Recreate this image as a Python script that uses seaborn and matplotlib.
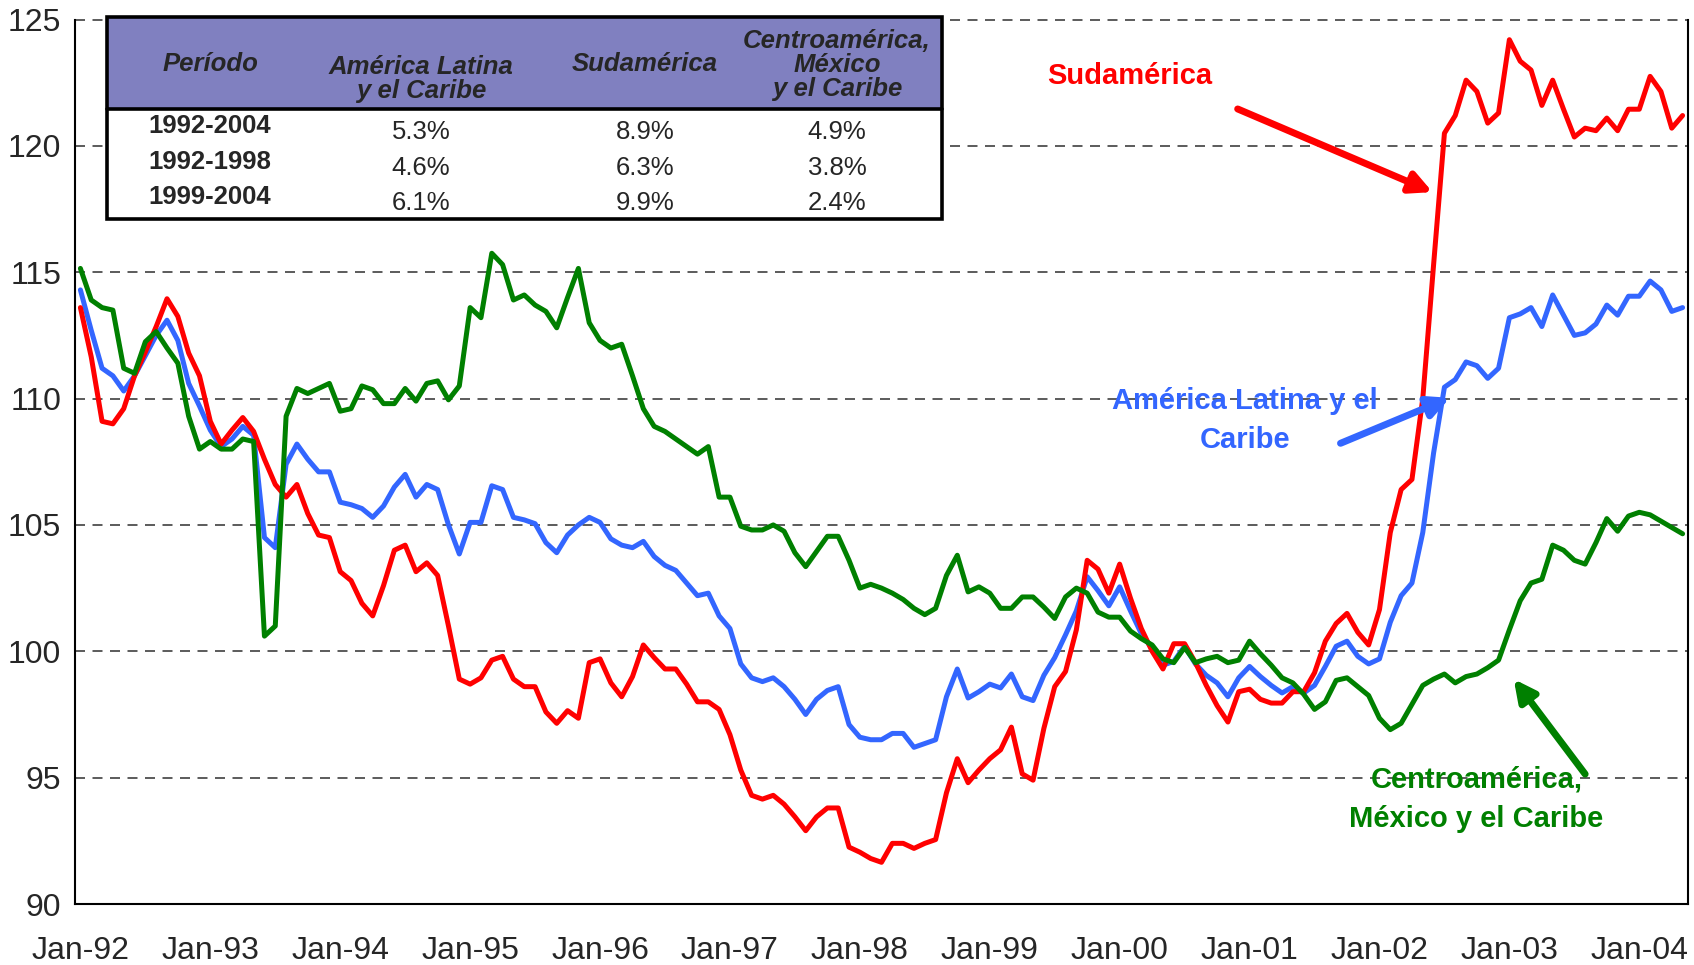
import numpy as np
import pandas as pd
import seaborn as sns
import matplotlib.pyplot as plt
from matplotlib.patches import Rectangle

sns.set_style("white")
plt.rcParams['font.family'] = ['Liberation Sans Narrow', 'Liberation Sans', 'DejaVu Sans']

# indices mensuales, ene-1992 a may-2004
sudamerica = [
    113.6, 111.65, 109.1, 109.0, 109.6, 110.9, 111.85, 112.85, 113.95, 113.25, 111.8, 110.9,
    109.1, 108.2, 108.75, 109.25, 108.7, 107.6, 106.6, 106.1, 106.6, 105.45, 104.6, 104.5,
    103.15, 102.8, 101.9, 101.4, 102.6, 104.0, 104.2, 103.15, 103.5, 103.0, 101.0, 98.9,
    98.7, 98.95, 99.65, 99.8, 98.9, 98.6, 98.6, 97.6, 97.15, 97.65, 97.35, 99.55,
    99.7, 98.75, 98.2, 99.0, 100.25, 99.75, 99.3, 99.3, 98.7, 98.0, 98.0, 97.7,
    96.7, 95.3, 94.3, 94.15, 94.3, 93.95, 93.45, 92.9, 93.45, 93.8, 93.8, 92.25,
    92.05, 91.8, 91.65, 92.4, 92.4, 92.2, 92.4, 92.55, 94.4, 95.75, 94.8, 95.3,
    95.75, 96.1, 97.0, 95.15, 94.9, 96.95, 98.6, 99.2, 100.85, 103.6, 103.25, 102.3,
    103.45, 102.1, 100.9, 100.0, 99.3, 100.3, 100.3, 99.55, 98.65, 97.85, 97.2, 98.4,
    98.5, 98.1, 97.95, 97.95, 98.4, 98.4, 99.15, 100.4, 101.1, 101.5, 100.75, 100.25,
    101.65, 104.7, 106.4, 106.8, 110.0, 115.3, 120.5, 121.2, 122.6, 122.15, 120.9, 121.3,
    124.2, 123.35, 123.0, 121.6, 122.6, 121.45, 120.35, 120.7, 120.6, 121.1, 120.6, 121.45,
    121.45, 122.75, 122.15, 120.7, 121.2,
]
america_latina = [
    114.3, 112.7, 111.2, 110.9, 110.3, 110.9, 111.7, 112.5, 113.1, 112.3, 110.6, 109.7,
    108.75, 108.1, 108.4, 108.9, 108.55, 104.5, 104.1, 107.4, 108.2, 107.6, 107.1, 107.1,
    105.9, 105.8, 105.65, 105.3, 105.75, 106.5, 107.0, 106.1, 106.6, 106.4, 105.0, 103.85,
    105.1, 105.1, 106.55, 106.4, 105.3, 105.2, 105.05, 104.3, 103.9, 104.6, 105.0, 105.3,
    105.1, 104.45, 104.2, 104.1, 104.35, 103.75, 103.4, 103.2, 102.7, 102.2, 102.3, 101.4,
    100.9, 99.5, 98.95, 98.8, 98.95, 98.6, 98.1, 97.5, 98.1, 98.45, 98.6, 97.1,
    96.6, 96.5, 96.5, 96.75, 96.75, 96.2, 96.35, 96.5, 98.2, 99.3, 98.15, 98.4,
    98.7, 98.55, 99.1, 98.2, 98.05, 99.05, 99.75, 100.65, 101.6, 102.95, 102.4, 101.8,
    102.55, 101.6, 100.7, 100.1, 99.45, 99.6, 100.2, 99.5, 99.05, 98.75, 98.2, 98.95,
    99.4, 99.0, 98.65, 98.35, 98.6, 98.35, 98.65, 99.4, 100.2, 100.4, 99.8, 99.5,
    99.7, 101.15, 102.2, 102.7, 104.7, 107.85, 110.45, 110.75, 111.45, 111.3, 110.8, 111.2,
    113.2, 113.35, 113.6, 112.85, 114.1, 113.3, 112.5, 112.6, 112.95, 113.7, 113.3, 114.05,
    114.05, 114.65, 114.3, 113.45, 113.6,
]
centroamerica = [
    115.15, 113.9, 113.6, 113.5, 111.2, 111.0, 112.25, 112.65, 112.0, 111.4, 109.3, 108.0,
    108.3, 108.0, 108.0, 108.4, 108.3, 100.6, 101.0, 109.3, 110.4, 110.2, 110.4, 110.6,
    109.5, 109.6, 110.5, 110.35, 109.8, 109.8, 110.4, 109.9, 110.6, 110.7, 109.95, 110.5,
    113.6, 113.2, 115.75, 115.3, 113.9, 114.1, 113.7, 113.45, 112.8, 114.0, 115.15, 113.0,
    112.3, 112.0, 112.15, 110.9, 109.6, 108.9, 108.7, 108.4, 108.1, 107.8, 108.1, 106.1,
    106.1, 104.95, 104.8, 104.8, 105.0, 104.75, 103.9, 103.35, 103.95, 104.55, 104.55, 103.6,
    102.5, 102.65, 102.5, 102.3, 102.05, 101.7, 101.45, 101.7, 103.0, 103.8, 102.35, 102.55,
    102.3, 101.7, 101.7, 102.15, 102.15, 101.75, 101.3, 102.15, 102.5, 102.3, 101.55, 101.35,
    101.35, 100.8, 100.5, 100.25, 99.7, 99.55, 100.15, 99.55, 99.7, 99.8, 99.55, 99.65,
    100.4, 99.9, 99.45, 98.95, 98.75, 98.3, 97.7, 98.0, 98.85, 98.95, 98.6, 98.25,
    97.35, 96.9, 97.15, 97.9, 98.65, 98.9, 99.1, 98.75, 99.0, 99.1, 99.35, 99.65,
    100.85, 102.0, 102.7, 102.85, 104.2, 104.0, 103.6, 103.45, 104.3, 105.25, 104.75, 105.35,
    105.5, 105.4, 105.15, 104.9, 104.65,
]

tick_labels = ['Jan-92', 'Jan-93', 'Jan-94', 'Jan-95', 'Jan-96', 'Jan-97', 'Jan-98',
               'Jan-99', 'Jan-00', 'Jan-01', 'Jan-02', 'Jan-03', 'Jan-04']

# tabla de tasas de crecimiento
tabla_cols = ['Período', 'América Latina\ny el Caribe', 'Sudamérica', 'Centroamérica,\nMéxico\ny el Caribe']
tabla_periodos = ['1992-2004', '1992-1998', '1999-2004']
tabla_al = ['5.3%', '4.6%', '6.1%']
tabla_sud = ['8.9%', '6.3%', '9.9%']
tabla_cen = ['4.9%', '3.8%', '2.4%']

n = len(sudamerica)
df = pd.DataFrame({
    'mes': list(range(n)) * 3,
    'valor': america_latina + sudamerica + centroamerica,
    'serie': ['AL'] * n + ['SUD'] * n + ['CEN'] * n,
})

colores = {'AL': '#3366FF', 'SUD': '#FF0000', 'CEN': '#008000'}

W, H = 1694, 965
fig = plt.figure(figsize=(W / 100, H / 100), dpi=100)
ax = fig.add_axes([75 / W, 1 - 904 / H, (1688 - 75) / W, (904 - 19.5) / H])

sns.lineplot(data=df, x='mes', y='valor', hue='serie', hue_order=['AL', 'SUD', 'CEN'],
             palette=colores, linewidth=3.6, legend=False, ax=ax)

ax.set_xlim(-0.5, n - 0.5)
ax.set_ylim(90, 125)
ax.set_yticks(np.arange(90, 126, 5))
ax.set_xticks(np.arange(0, n, 12))
ax.set_xticklabels(tick_labels)
ax.set_xticks(np.arange(-0.5, n, 1), minor=True)
ax.tick_params(axis='x', which='major', length=0, labelsize=23, pad=23)
ax.tick_params(axis='x', which='minor', length=8, width=1.2, direction='out', color='black')
ax.tick_params(axis='y', which='major', length=6, width=1.2, direction='out', labelsize=23, pad=4)
ax.set_xlabel('')
ax.set_ylabel('')

for v in range(95, 126, 5):
    ax.axhline(v, color='#404040', lw=1.2, ls=(0, (6, 4.5)), zorder=0)

for s in ['left', 'bottom', 'right']:
    ax.spines[s].set_color('black')
    ax.spines[s].set_linewidth(1.5)
ax.spines['top'].set_visible(False)

# anotaciones
ax.text(96.96, 122.76, 'Sudamérica', color='#FF0000', fontsize=21, fontweight='bold',
        ha='center', va='center')
ax.annotate('', xy=(124.9, 118.17), xytext=(106.9, 121.46),
            arrowprops=dict(arrowstyle='-|>', color='#FF0000', lw=5, mutation_scale=32,
                            shrinkA=0, shrinkB=0))

ax.text(107.6, 109.13, 'América Latina y el\nCaribe', color='#3366FF', fontsize=21,
        fontweight='bold', ha='center', va='center', linespacing=1.5)
ax.annotate('', xy=(126.5, 110.03), xytext=(116.4, 108.23),
            arrowprops=dict(arrowstyle='-|>', color='#3366FF', lw=5, mutation_scale=32,
                            shrinkA=0, shrinkB=0))

ax.text(128.94, 94.15, 'Centroamérica,\nMéxico y el Caribe', color='#008000', fontsize=21,
        fontweight='bold', ha='center', va='center', linespacing=1.5)
ax.annotate('', xy=(132.4, 98.9), xytext=(139.0, 95.14),
            arrowprops=dict(arrowstyle='-|>', color='#008000', lw=5, mutation_scale=32,
                            shrinkA=0, shrinkB=0))

# tabla
def fx(px):
    return px / W

def fy(py):
    return 1 - py / H

t_left, t_right, t_top, t_head, t_bot = 107, 942, 17, 109, 219
fig.add_artist(Rectangle((fx(t_left), fy(t_bot)), fx(t_right - t_left), (t_bot - t_top) / H,
                         transform=fig.transFigure, facecolor='white', edgecolor='none', zorder=5))
fig.add_artist(Rectangle((fx(t_left), fy(t_head)), fx(t_right - t_left), (t_head - t_top) / H,
                         transform=fig.transFigure, facecolor='#8080C0', edgecolor='none', zorder=6))
fig.add_artist(Rectangle((fx(t_left), fy(t_bot)), fx(t_right - t_left), (t_bot - t_top) / H,
                         transform=fig.transFigure, facecolor='none', edgecolor='black',
                         lw=2.6, zorder=8))
fig.add_artist(plt.Line2D([fx(t_left), fx(t_right)], [fy(t_head), fy(t_head)],
                          transform=fig.transFigure, color='black', lw=2.6, zorder=8))

col_x = [210, 421, 645, 837]
tfont = ['Liberation Sans', 'DejaVu Sans']
for cx, lab in zip(col_x, tabla_cols):
    nl = lab.count('\n')
    cy = {0: 64, 1: 79, 2: 65}[nl]
    fig.text(fx(cx), fy(cy), lab, ha='center', va='center', fontsize=18.5, fontweight='bold',
             fontstyle='italic', family=tfont, linespacing=1.0, zorder=9)

row_y = [126, 162, 197]
for i, ry in enumerate(row_y):
    fig.text(fx(col_x[0]), fy(ry), tabla_periodos[i], ha='center', va='center', fontsize=18.5,
             fontweight='bold', family=tfont, zorder=9)
    for cx, vals in zip(col_x[1:], [tabla_al, tabla_sud, tabla_cen]):
        fig.text(fx(cx), fy(ry + 6), vals[i], ha='center', va='center', fontsize=18.5,
                 family=tfont, zorder=9)

fig.savefig('out.png', dpi=100, facecolor='white')
